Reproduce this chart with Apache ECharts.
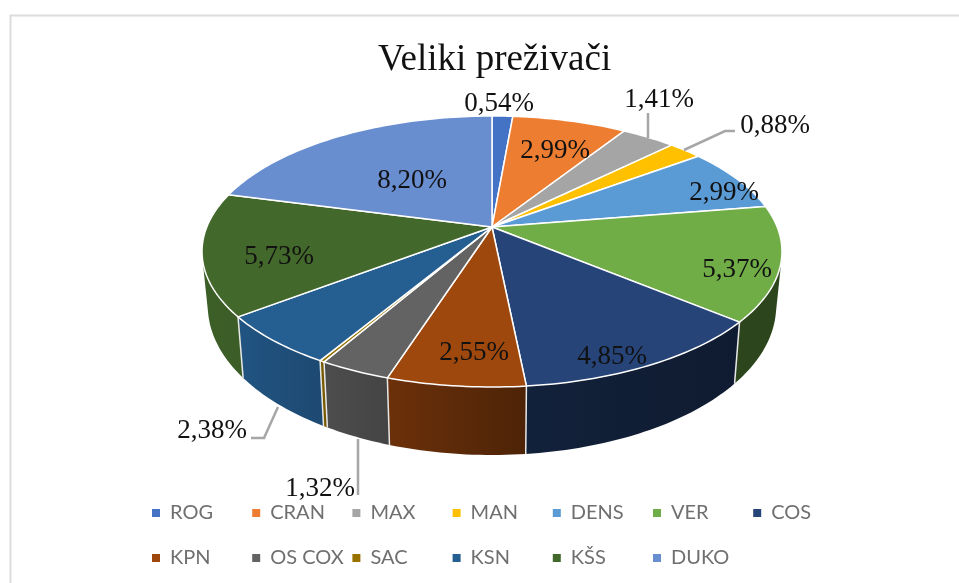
<!DOCTYPE html>
<html>
<head>
<meta charset="utf-8">
<style>
    html, body { margin: 0; padding: 0; background: #fff; }
    #chart { width: 959px; height: 583px; }
</style>
</head>
<body>
<div id="chart"></div>
<script src="https://cdn.jsdelivr.net/npm/echarts@6/dist/echarts.min.js"></script>
<script>
const names = ['ROG', 'CRAN', 'MAX', 'MAN', 'DENS', 'VER', 'COS', 'KPN', 'OS COX', 'SAC', 'KSN', 'KŠS', 'DUKO']
const values = [0.54, 2.99, 1.41, 0.88, 2.99, 5.37, 4.85, 2.55, 1.32, 0.09, 2.38, 5.73, 8.20]
const showLabel = [true, true, true, true, true, true, true, true, true, false, true, true, true]
const colors = ['#4472c4', '#ed7d31', '#a5a5a5', '#ffc000', '#5b9bd5', '#70ad47', '#264478', '#9e480e', '#636363', '#997300', '#255e91', '#43682b', '#698ed0']

// label centres and leader lines, chart pixels
const labelSpots = [[499, 104], [555, 151], [659, 100], [775, 126], [724, 193], [737, 270], [612, 357], [474, 353], [320, 489], null, [212, 431], [279, 257], [412, 181]]
const leaders = [
    [[648, 138], [648, 113]],
    [[684, 150], [725, 131], [735, 131]],
    [[358, 439], [358, 495]],
    [[278, 407], [264, 438], [251, 438]]
]

// the pie is a tilted disc, so the apex sits above the centre of the ellipse
const apex = { x: 492, y: 227 }
const tilt = { a: 285.2, b: 131.07, k: 0.1808 }
const total = values.reduce((a, b) => a + b, 0)
const angles = []
values.reduce((sum, v) => {
    angles.push([sum / total * Math.PI * 2, (sum + v) / total * Math.PI * 2])
    return sum + v
}, 0)

function project(t) {
    const u = Math.sin(t)
    const v = -Math.cos(t)
    const d = 1 - tilt.k * v
    return [apex.x + tilt.a * u / d, apex.y + tilt.b * v / d]
}
function drop(p) {
    return [apex.x + (p[0] - apex.x) * 0.98, apex.y + (p[1] - apex.y) * 1.1 + 52]
}
function arc(t0, t1) {
    const n = Math.max(2, Math.ceil((t1 - t0) / 0.02))
    const pts = []
    for (let i = 0; i <= n; i++) pts.push(project(t0 + (t1 - t0) * i / n))
    return pts
}
// outline of a wall, so the sides run straight from the top rim to the bottom rim
function hull(points) {
    const pts = points.slice().sort((a, b) => a[0] - b[0] || a[1] - b[1])
    const cross = (o, a, b) => (a[0] - o[0]) * (b[1] - o[1]) - (a[1] - o[1]) * (b[0] - o[0])
    const half = list => {
        const out = []
        list.forEach(p => {
            while (out.length > 1 && cross(out[out.length - 2], out[out.length - 1], p) <= 0) out.pop()
            out.push(p)
        })
        out.pop()
        return out
    }
    return half(pts).concat(half(pts.slice().reverse()))
}
// walls get darker towards the right side
function shade(hex, x) {
    const f = Math.max(0.4, Math.min(0.9, 0.95 - (x - 202) * 0.00143))
    const n = parseInt(hex.slice(1), 16)
    const c = [n >> 16, (n >> 8) & 255, n & 255].map(v => Math.round(v * f))
    return 'rgb(' + c.join(',') + ')'
}

function renderSlice(i) {
    return function () {
        const [t0, t1] = angles[i]
        const top = arc(t0, t1)
        const bottom = top.map(drop)
        const first = top[0]
        const last = top[top.length - 1]
        const children = [
            {
                type: 'polygon',
                z2: 1,
                shape: { points: hull(top.concat(bottom)) },
                style: {
                    fill: new echarts.graphic.LinearGradient(0, 0, 1, 0, [
                        { offset: 0, color: shade(colors[i], Math.min(first[0], last[0])) },
                        { offset: 1, color: shade(colors[i], Math.max(first[0], last[0])) }
                    ])
                }
            },
            {
                type: 'polyline',
                z2: 2,
                shape: { points: [first, drop(first)] },
                style: { stroke: '#e8e8e8', lineWidth: 1.5, fill: null }
            },
            {
                type: 'polygon',
                z2: 5,
                shape: { points: [[apex.x, apex.y]].concat(top) },
                style: { fill: colors[i], stroke: '#fff', lineWidth: 1.5, lineJoin: 'round' }
            }
        ]
        if (showLabel[i]) {
            children.push({
                type: 'text',
                z2: 10,
                style: {
                    text: values[i].toFixed(2).replace('.', ',') + '%',
                    x: labelSpots[i][0],
                    y: labelSpots[i][1],
                    align: 'center',
                    verticalAlign: 'middle',
                    fill: '#111',
                    font: '27px "Liberation Serif"'
                }
            })
        }
        return { type: 'group', children: children }
    }
}

const series = names.map((name, i) => ({
    name: name,
    type: 'custom',
    coordinateSystem: 'none',
    silent: true,
    animation: false,
    itemStyle: { color: colors[i] },
    data: [[values[i]]],
    renderItem: renderSlice(i)
}))

// seven columns, two rows, items keep to the column grid
const legends = names.map((name, i) => ({
    data: [name],
    left: 152 + (i % 7) * 100.2,
    top: i < 7 ? 503 : 548,
    padding: 0,
    itemWidth: 8,
    itemHeight: 8,
    icon: 'rect',
    selectedMode: false,
    textStyle: {
        color: '#6f6f6f',
        fontFamily: 'Lato',
        fontSize: 20,
        padding: [0, 0, 0, 5]
    }
}))

const myChart = echarts.init(document.getElementById('chart'))
myChart.setOption({
    animation: false,
    backgroundColor: '#fff',
    title: {
        text: 'Veliki preživači',
        left: 378,
        top: 42,
        padding: 0,
        textStyle: { fontFamily: 'Liberation Serif', fontWeight: 'normal', fontSize: 37, color: '#111' }
    },
    legend: legends,
    graphic: [
        {
            type: 'polyline',
            shape: { points: [[10.5, 583], [10.5, 15.5], [959, 15.5]] },
            style: { stroke: '#dcdcdc', lineWidth: 2, fill: null }
        }
    ].concat(leaders.map(points => ({
        type: 'polyline',
        z: 20,
        shape: { points: points },
        style: { stroke: '#a6a6a6', lineWidth: 2.5, fill: null }
    }))),
    series: series
})
window.addEventListener('resize', () => myChart.resize())
</script>
</body>
</html>
